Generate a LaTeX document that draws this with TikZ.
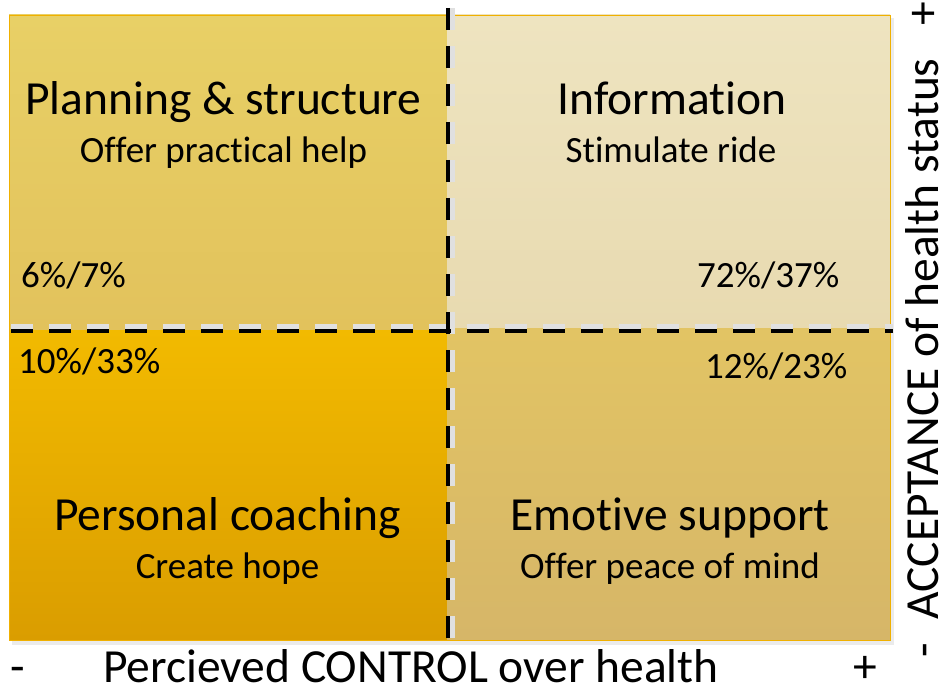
\documentclass[tikz,border=0pt]{standalone}
\usepackage{fontspec}
\setmainfont{Carlito}[Ligatures=NoCommon]
\definecolor{tlT}{RGB}{232,208,102}
\definecolor{tlB}{RGB}{226,194,92}
\definecolor{trT}{RGB}{238,228,192}
\definecolor{trB}{RGB}{232,218,176}
\definecolor{blT}{RGB}{242,186,0}
\definecolor{blB}{RGB}{218,157,0}
\definecolor{brT}{RGB}{226,196,100}
\definecolor{brB}{RGB}{214,182,104}
\definecolor{edge}{RGB}{240,176,0}
\begin{document}
\begin{tikzpicture}[x=1pt,y=-1pt,
  big/.style={anchor=base,inner sep=0pt,font=\fontsize{47.5}{50}\selectfont},
  sub/.style={anchor=base,inner sep=0pt,font=\fontsize{37}{40}\selectfont},
  pct/.style={anchor=base west,inner sep=0pt,font=\fontsize{37}{40}\selectfont},
  divider/.style={line width=4.5pt,dash pattern=on 22pt off 16pt},
  shadowline/.style={line width=5pt,black!12,dash pattern=on 22pt off 16pt}]
\useasboundingbox (0,0) rectangle (945,687);
% drop shadow of whole panel
\fill[black!8] (12,18) rectangle (894,645);
% quadrants
\fill[top color=tlT,bottom color=tlB] (9,15) rectangle (447,330);
\fill[top color=trT,bottom color=trB] (447,15) rectangle (890,328);
\fill[top color=blT,bottom color=blB] (9,330) rectangle (447,640);
\fill[top color=brT,bottom color=brB] (447,328) rectangle (890,640);
\draw[line width=0.8pt,edge] (9,15) rectangle (890,640);
% dividers
\coordinate (hl) at (11,331);
\coordinate (hr) at (893,331);
\coordinate (vt) at (448,8);
\coordinate (vb) at (448,645);
\draw[shadowline] ([yshift=5pt]hl) -- ([yshift=5pt]hr);
\draw[shadowline] ([xshift=4pt]vt) -- ([xshift=4pt]vb);
\draw[divider] (hl) -- (hr);
\draw[divider] (vt) -- (vb);
% texts
\node[big] (t1) at (223.5,115) {Planning \& structure};
\node[sub] (s1) at (223.5,163) {Offer practical help};
\node[big] (t2) at (672,115) {Information};
\node[sub] (s2) at (671,163) {Stimulate ride};
\node[big] (t3) at (227.5,530) {Personal coaching};
\node[sub] (s3) at (227.5,578) {Create hope};
\node[big] (t4) at (670,530) {Emotive support};
\node[sub] (s4) at (670,578) {Offer peace of mind};
\node[pct] (p1) at (21,287) {6\%/7\%};
\node[pct] (p2) at (697,287) {72\%/37\%};
\node[pct] (p3) at (18,373) {10\%/33\%};
\node[pct] (p4) at (705,378) {12\%/23\%};
% axes
\node[big,anchor=base west] (xm) at (10,682) {-};
\node[big,anchor=base west] (xl) at (103,682) {Percieved CONTROL over health};
\node[big,anchor=base west] (xp) at (853,682) {+};
\node[big,anchor=base west,rotate=90] (yl) at (938,620) {ACCEPTANCE of health status};
\node[big,anchor=base,rotate=90] (yp) at (938,14) {+};
\node[big,anchor=base,rotate=90] (ym) at (938,650) {-};
\end{tikzpicture}
\end{document}
